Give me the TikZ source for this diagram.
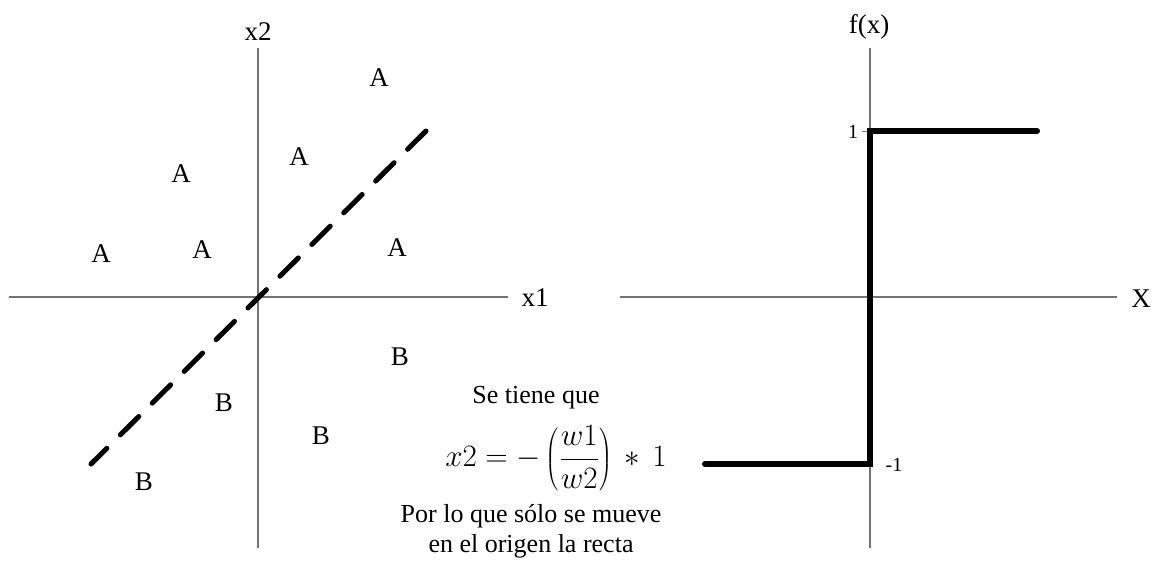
\documentclass[tikz,border=0pt]{standalone}
\usepackage{fontspec}
\setmainfont{Liberation Serif}
\begin{document}
\begin{tikzpicture}[x=1pt,y=-1pt,
  axis/.style={draw=black!55,line width=1.2pt},
  lbl/.style={font=\fontsize{27}{30}\selectfont,inner sep=0pt},
  txt/.style={font=\fontsize{26}{30}\selectfont,inner sep=0pt},
  mth/.style={font=\fontsize{20.74}{24}\selectfont,inner sep=0pt,scale=1.5},
  pt/.style={font=\fontsize{27}{30}\selectfont,inner sep=0pt},
  small/.style={font=\fontsize{20}{22}\selectfont,inner sep=0pt},
  sep/.style={line width=5pt,line cap=round,dash pattern=on 26pt off 19pt},
  stepfn/.style={line width=6pt,line cap=round,line join=miter}]
\useasboundingbox (0,0) rectangle (1160,566);
% left plot axes
\coordinate (x1l) at (9,297);
\coordinate (x1r) at (508,297);
\coordinate (x2t) at (258,48);
\coordinate (x2b) at (258,548);
\draw[axis] (x1l) -- (x1r);
\draw[axis] (x2b) -- (x2t);
\node[lbl] (lx1) at (535,298) {x1};
\node[lbl] (lx2) at (258,32) {x2};
% separating line
\coordinate (d1) at (426,131);
\coordinate (d2) at (91,464);
\draw[sep] (d1) -- (d2);
% points
\node[pt] (a1) at (101,254) {A};
\node[pt] (a2) at (181,174) {A};
\node[pt] (a3) at (202,250) {A};
\node[pt] (a4) at (299,157) {A};
\node[pt] (a5) at (379,78) {A};
\node[pt] (a6) at (397,248) {A};
\node[pt] (b1) at (144,482) {B};
\node[pt] (b2) at (224,403) {B};
\node[pt] (b3) at (321,436) {B};
\node[pt] (b4) at (400,357) {B};
% text
\node[txt] (t1) at (536,398) {Se tiene que};
\node[mth] (t2) at (556,458) {$\displaystyle x2=-\left(\frac{w1}{w2}\right)\,*\,1$};
\node[txt] (t3) at (531,516) {Por lo que sólo se mueve};
\node[txt] (t4) at (531,546) {en el origen la recta};
% right plot axes
\coordinate (Xl) at (620,297);
\coordinate (Xr) at (1117,297);
\coordinate (ft) at (870,48);
\coordinate (fb) at (870,548);
\draw[axis] (Xl) -- (Xr);
\draw[axis] (fb) -- (ft);
\node[lbl] (lX) at (1141,299) {X};
\node[lbl] (lf) at (869,27) {f(x)};
% ticks and labels
\coordinate (tk1) at (862,131);
\coordinate (tk0) at (870,131);
\draw[axis,line width=1pt] (tk1) -- (tk0);
\node[small] (one) at (853,132) {1};
\node[small] (mone) at (894,465) {-1};
% step function
\coordinate (s1) at (705,464);
\coordinate (s2) at (870,464);
\coordinate (s3) at (870,131);
\coordinate (s4) at (1037,131);
\draw[stepfn] (s1) -- (s2) -- (s3) -- (s4);
\end{tikzpicture}
\end{document}
